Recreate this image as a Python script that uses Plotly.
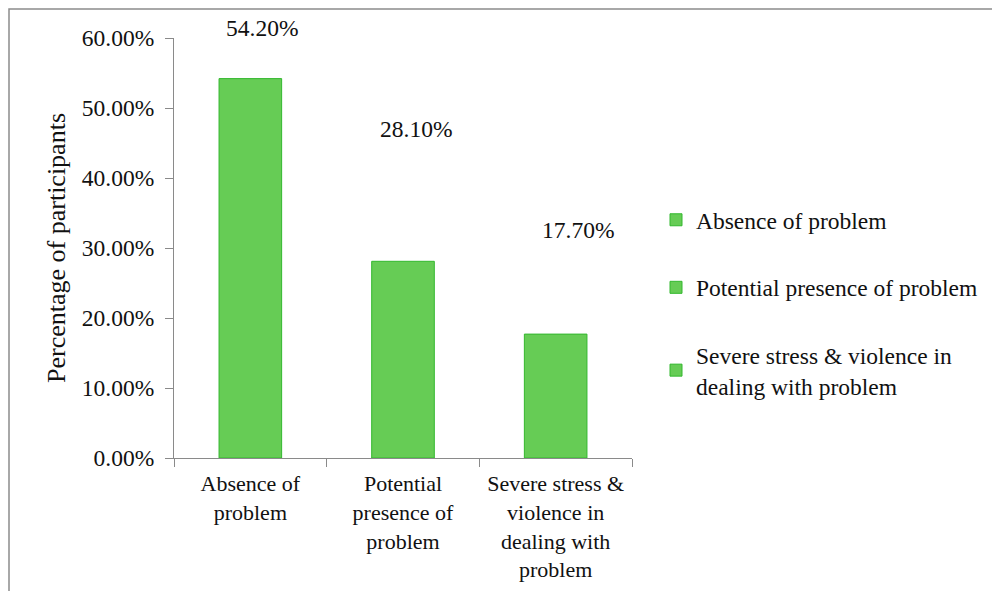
import plotly.graph_objects as go

# ---- data ----
categories = ["Absence of problem", "Potential presence of problem",
              "Severe stress & violence in dealing with problem"]
tick_labels = ["Absence of<br>problem", "Potential<br>presence of<br>problem",
               "Severe stress &<br>violence in<br>dealing with<br>problem"]
legend_labels = ["Absence of problem", "Potential presence of problem",
                 "Severe stress & violence in<br>dealing with problem"]
values = [0.542, 0.281, 0.177]
value_labels = ["54.20%", "28.10%", "17.70%"]
y_ticks = [0.0, 0.1, 0.2, 0.3, 0.4, 0.5, 0.6]

# ---- style ----
FONT = "Liberation Serif, Times New Roman, serif"
FS = 23.5
TXT = "#111111"
AX = "#8a8a8a"
FILL = "#66cc55"
EDGE = "#33b82e"
label_shift = [(12, 51), (13, 132), (22, 104)]  # pixel offsets of value labels

W, H = 992, 591
L, R, T, B = 174, 360, 38, 133
pw, ph = W - L - R, H - T - B

fig = go.Figure()
for cat, tl, lg, v in zip(categories, tick_labels, legend_labels, values):
    fig.add_trace(go.Bar(
        x=[tl], y=[v], name=lg, legendgroup=cat, width=0.41,
        marker=dict(color=FILL, line=dict(color=EDGE, width=1)),
        hoverinfo="skip",
    ))

for tl, v, lab, (dx, dy) in zip(tick_labels, values, value_labels, label_shift):
    fig.add_annotation(x=tl, y=v, xref="x", yref="y", text=lab, showarrow=False,
                       xanchor="center", yanchor="middle", xshift=dx, yshift=dy,
                       font=dict(family=FONT, size=FS, color=TXT))

def px_x(p):
    return (p - L) / pw

def px_y(p):
    return (H - B - p) / ph

# outer frame fragment (top and left border)
fig.add_shape(type="path", xref="paper", yref="paper",
              path=f"M {px_x(9)} {px_y(H + 5)} L {px_x(9)} {px_y(9)} L {px_x(W + 5)} {px_y(9)}",
              line=dict(color="#8c8c8c", width=1.5))

fig.update_layout(
    width=W, height=H,
    margin=dict(l=L, r=R, t=T, b=B, autoexpand=False),
    paper_bgcolor="white", plot_bgcolor="white",
    barmode="overlay",
    font=dict(family=FONT, size=FS, color=TXT),
    showlegend=True,
    legend=dict(x=px_x(656), y=px_y(198), xanchor="left", yanchor="top",
                tracegroupgap=34, itemwidth=30,
                font=dict(family=FONT, size=FS, color=TXT),
                bgcolor="rgba(0,0,0,0)"),
    xaxis=dict(categoryorder="array", categoryarray=tick_labels,
               showline=True, linecolor=AX, linewidth=1,
               ticks="outside", tickson="boundaries", ticklen=8, tickcolor=AX,
               showgrid=False, tickfont=dict(family=FONT, size=22, color=TXT),
               ticklabelstandoff=6, automargin=False,
               tickangle=0, fixedrange=True),
    yaxis=dict(range=[0, 0.6], tickvals=y_ticks, tickformat=".2%",
               showline=True, linecolor=AX, linewidth=1,
               ticks="outside", ticklen=8, tickcolor=AX,
               showgrid=False, zeroline=False, automargin=False,
               tickfont=dict(family=FONT, size=FS, color=TXT),
               ticklabelstandoff=6,
               title=dict(text="Percentage of participants", standoff=8,
                          font=dict(family=FONT, size=26, color=TXT)),
               fixedrange=True),
)

fig.write_html("out.html")
